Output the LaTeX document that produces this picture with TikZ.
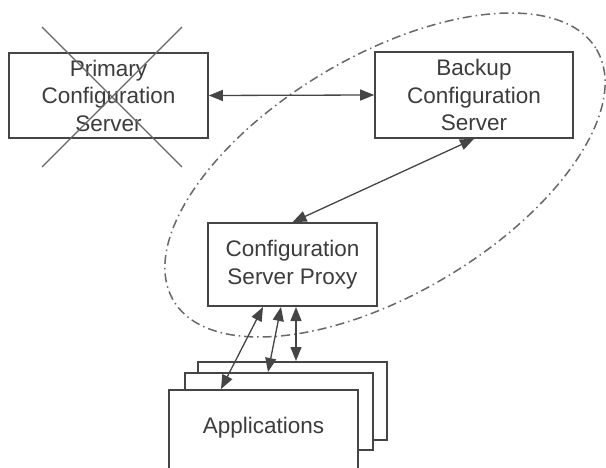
\documentclass[tikz,border=0pt]{standalone}
\usepackage{fontspec}
\setmainfont{Liberation Sans}
\usetikzlibrary{arrows.meta,calc}
\definecolor{ln}{HTML}{454545}
\definecolor{tx}{HTML}{3C3C3C}
\definecolor{xl}{HTML}{666666}
\definecolor{el}{HTML}{686868}
\begin{document}
\begin{tikzpicture}[x=1pt,y=-1pt,
  box/.style={draw=ln,line width=1.6pt,fill=white,inner sep=0pt,align=center,text=tx,
    font=\fontsize{22.5}{27.5}\selectfont},
  conn/.style={draw=ln,line width=1.3pt,{Triangle[length=14pt,width=11pt]}-{Triangle[length=14pt,width=11pt]}},
  crossline/.style={draw=xl,line width=1.3pt},
  ring/.style={draw=el,line width=1.5pt,dash pattern=on 9pt off 4pt on 1.5pt off 4pt}]
\useasboundingbox (0,0) rectangle (606,468);
% boxes
\node[box,minimum width=199pt,minimum height=85pt] (primary) at (108.5,95.5) {Primary\\Configuration\\Server};
\node[box,minimum width=198pt,minimum height=86pt] (backup) at (474,95) {Backup\\Configuration\\Server};
\node[box,minimum width=169pt,minimum height=83pt] (proxy) at (292.5,264.5) {Configuration\\Server Proxy};
% ellipse
\draw[ring] (385,175) ellipse[x radius=246, y radius=119, rotate=30.7];
% cross
\draw[crossline] (42,27) -- (182,167);
\draw[crossline] (182,27) -- (42,167);
% applications stack
\node[box,minimum width=189pt,minimum height=78pt] (appback) at (292.5,401) {};
\node[box,minimum width=188pt,minimum height=77pt] (appmid) at (279,411.5) {};
\node[box,minimum width=189pt,minimum height=100pt] (appfront) at (263.5,440) {};
\node[text=tx,font=\fontsize{22.5}{27.5}\selectfont,inner sep=0pt] (apptext) at (263.5,428) {Applications};
% connectors
\draw[conn] (primary.east) -- (backup.west);
\draw[conn] (backup.south) -- (proxy.north);
\coordinate (p1) at (263,307);
\coordinate (p2) at (281,307);
\coordinate (p3) at (296,307);
\coordinate (a1) at (221,389);
\coordinate (a2) at (268,372);
\coordinate (a3) at (296,361);
\draw[conn] (p1) -- (a1);
\draw[conn] (p2) -- (a2);
\draw[conn] (p3) -- (a3);
\end{tikzpicture}
\end{document}
